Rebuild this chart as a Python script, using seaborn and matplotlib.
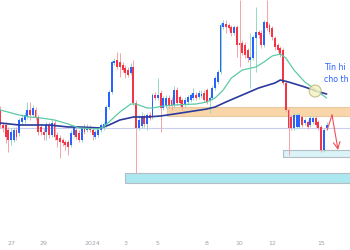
import numpy as np
import pandas as pd
import matplotlib
matplotlib.use('Agg')
import matplotlib.pyplot as plt
from matplotlib.patches import Rectangle, Ellipse
import seaborn as sns

# 4h candles, index 0 = 27 Dec 00:00
candle_idx = list(range(-4, 117))
opens = [140, 125, 125, 120, 110, 110, 120, 117, 128, 130, 133, 140, 135, 140, 133, 123, 118, 118, 125, 115,
         127, 115, 112, 110, 108, 108, 105, 115, 120, 117, 110, 122, 120, 123, 120, 113, 115, 120, 122, 125,
         143, 158, 187, 190, 188, 185, 182, 180, 177, 183, 147, 122, 124, 134, 126, 135, 133, 155, 152, 157,
         142, 145, 152, 150, 145, 160, 153, 150, 145, 148, 150, 152, 155, 153, 154, 157, 160, 150, 152, 162,
         168, 178, 223, 226, 225, 223, 217, 223, 207, 207, 205, 200, 190, 192, 212, 218, 217, 205, 228, 225,
         222, 212, 205, 202, 200, 167, 140, 133, 122, 123, 123, 133, 127, 128, 125, 128, 132, 128, 123, 100,
         122]
closes = [125, 122, 113, 110, 118, 120, 113, 130, 132, 135, 140, 135, 142, 133, 118, 118, 115, 125, 115, 127,
          113, 110, 108, 107, 105, 103, 117, 123, 113, 110, 122, 118, 123, 120, 115, 118, 120, 125, 126, 143,
          158, 188, 189, 183, 183, 180, 177, 175, 183, 147, 122, 130, 134, 126, 135, 132, 155, 152, 155, 142,
          152, 152, 145, 144, 160, 147, 147, 143, 150, 153, 155, 157, 152, 157, 156, 150, 148, 152, 162, 172,
          178, 225, 227, 223, 222, 217, 223, 205, 205, 197, 195, 192, 193, 213, 218, 215, 205, 228, 222, 218,
          213, 203, 200, 195, 167, 140, 122, 122, 135, 135, 135, 125, 130, 123, 132, 132, 125, 122, 100, 120,
          125]
highs = [144, 128, 128, 123, 122, 123, 123, 132, 136, 138, 148, 148, 145, 143, 135, 126, 122, 128, 128, 130,
         130, 118, 115, 112, 110, 110, 120, 125, 123, 120, 124, 126, 126, 125, 122, 120, 122, 127, 128, 145,
         160, 190, 192, 198, 197, 188, 185, 183, 187, 190, 150, 135, 138, 136, 137, 138, 157, 158, 172, 160,
         154, 155, 155, 153, 164, 163, 155, 152, 153, 155, 157, 162, 158, 160, 160, 160, 162, 154, 164, 174,
         180, 227, 230, 230, 227, 225, 225, 225, 250, 210, 208, 202, 217, 215, 243, 220, 220, 230, 250, 227,
         224, 214, 207, 204, 202, 170, 142, 135, 137, 137, 137, 135, 132, 130, 134, 134, 134, 130, 125, 122,
         128]
lows = [122, 118, 107, 98, 105, 108, 110, 114, 126, 127, 131, 130, 133, 130, 115, 115, 110, 110, 112, 113,
        110, 103, 92, 104, 100, 95, 103, 113, 111, 108, 108, 116, 118, 118, 110, 111, 113, 118, 120, 123,
        141, 156, 185, 181, 173, 178, 172, 173, 175, 145, 77, 120, 122, 123, 120, 130, 131, 150, 150, 118,
        140, 142, 142, 140, 142, 145, 144, 140, 143, 146, 148, 150, 150, 151, 152, 148, 146, 137, 150, 160,
        166, 176, 221, 217, 220, 214, 215, 193, 183, 195, 192, 188, 162, 190, 178, 212, 202, 203, 220, 216,
        210, 200, 198, 193, 165, 138, 95, 120, 120, 121, 122, 123, 125, 121, 123, 126, 123, 120, 98, 98,
        120]

# moving averages read at a few candles
ma_fast_idx = [-4, 3, 7, 11, 16, 21, 25, 32, 34, 36, 40, 44, 46, 50, 52, 56, 60, 68, 72, 75, 78, 81, 85,
               90, 93, 96, 99, 101, 104, 108, 112, 116]
ma_fast = [140, 135, 133, 132, 130, 126, 122, 121, 123, 128, 138, 146, 146, 142, 142, 144, 145, 146, 148, 152,
           160, 172, 180, 183, 188, 194, 196, 192, 180, 168, 160, 152]
ma_slow_idx = [-4, 3, 14, 21, 25, 33, 36, 40, 45, 50, 55, 60, 72, 75, 79, 85, 91, 97, 99, 102, 108, 112, 116]
ma_slow = [127, 125, 125, 123, 123, 122, 125, 130, 133, 133, 134, 136, 141, 143, 148, 155, 162, 167, 170, 168,
           163, 159, 156]

tick_idx = [0, 12, 30, 42, 54, 72, 84, 96, 114]
tick_labels = ['27', '29', '2024', '3', '5', '8', '10', '12', '15']

sns.set_theme(style='white')
plt.rcParams['font.family'] = ['DejaVu Sans']

fig = plt.figure(figsize=(3.5, 2.5), dpi=100)
ax = fig.add_axes([0, 15 / 250, 1, 235 / 250])
ax.set_xlim(-4.05, 124.6)
ax.set_ylim(15, 250)

# zones
ax.axhline(122, color='#c9cdf0', lw=0.8, zorder=0)
ax.add_patch(Rectangle((41.9, 67), 100, 10, facecolor='#ace8ef', edgecolor='#b4bcc4', lw=0.8, zorder=1))
ax.add_patch(Rectangle((100, 93), 40, 7, facecolor='#daf3f6', edgecolor='#b4bcc4', lw=0.8, zorder=1))
ax.add_patch(Rectangle((57.4, 134), 80, 9, facecolor='#f9d6a9', edgecolor='#e8c9a0', lw=0.8, zorder=1))

# candles
o = np.array(opens); c = np.array(closes)
up = c >= o
x = np.array(candle_idx)
ax.vlines(x[up], np.array(lows)[up], np.array(highs)[up], color='#93d9c6', lw=0.7, zorder=2)
ax.vlines(x[~up], np.array(lows)[~up], np.array(highs)[~up], color='#f7a3ab', lw=0.7, zorder=2)
ax.bar(x[up], (c - o)[up], bottom=o[up], width=0.7, color='#2962ff', lw=0, zorder=3)
ax.bar(x[~up], (c - o)[~up], bottom=o[~up], width=0.7, color='#f23645', lw=0, zorder=3)

# moving averages
sns.lineplot(x=ma_slow_idx, y=ma_slow, ax=ax, color='#2b3a9e', lw=1.2, zorder=4)
sns.lineplot(x=ma_fast_idx, y=ma_fast, ax=ax, color='#5ccaa8', lw=0.9, zorder=4)

# crossover marker
ax.add_patch(Ellipse((111.8, 159), 4.4, 12, facecolor='#f6f0bf', edgecolor='#b8b27a', lw=0.8, alpha=0.8, zorder=5))

# projected path arrows
ax.plot([116.2, 118], [120, 135], color='#f0505a', lw=0.8, zorder=5)
ax.annotate('', xy=(120.2, 100), xytext=(118, 135),
            arrowprops=dict(arrowstyle='->', color='#f0505a', lw=0.8, shrinkA=0, shrinkB=0), zorder=5)
ax.annotate('', xy=(125.5, 96), xytext=(121.7, 135),
            arrowprops=dict(arrowstyle='->', color='#f0505a', lw=0.8, shrinkA=0, shrinkB=0), zorder=5)

# label is cut by the chart edge in the source, keep the visible part
ax.text(115.2, 182, 'Tín hi', color='#2962ff', fontsize=5.7, va='center', ha='left')
ax.text(115.2, 171, 'cho th', color='#2962ff', fontsize=5.7, va='center', ha='left')

ax.set_xticks(tick_idx)
ax.set_xticklabels(tick_labels)
ax.set_yticks([])
ax.tick_params(axis='x', length=0, pad=4, labelsize=4.5, colors='#a0a3ab')
for s in ax.spines.values():
    s.set_visible(False)
ax.set_xlabel('')
ax.set_ylabel('')

fig.savefig('out.png', dpi=100)
